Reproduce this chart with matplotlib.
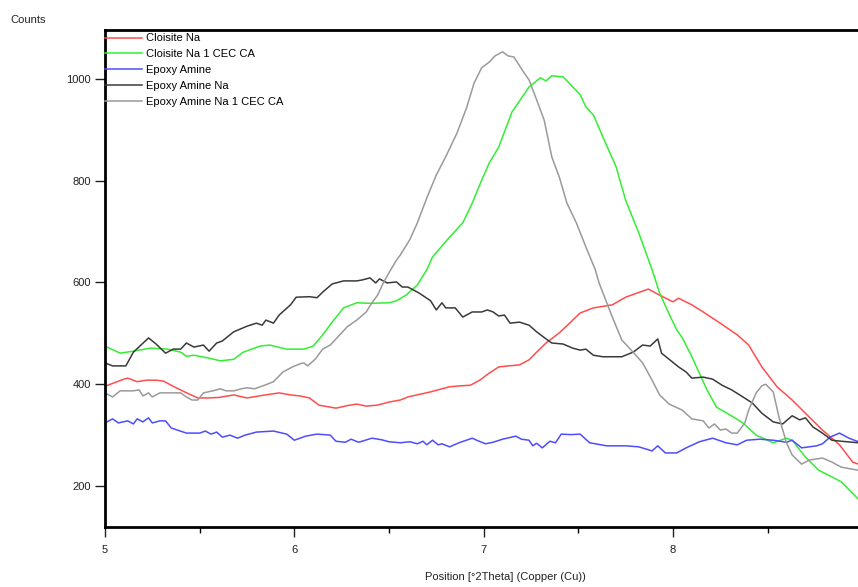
import numpy as np
import matplotlib
matplotlib.use("Agg")
import matplotlib.pyplot as plt
from matplotlib.ticker import MultipleLocator

plt.rcParams['font.family'] = ['Liberation Sans Narrow', 'Liberation Sans', 'DejaVu Sans']

# Cloisite Na
x_red = [5.00, 5.05, 5.10, 5.12, 5.17, 5.22, 5.27, 5.31, 5.36, 5.42, 5.49, 5.54, 5.60, 5.68, 5.75,
         5.83, 5.92, 5.98, 6.03, 6.08, 6.13, 6.22, 6.28, 6.33, 6.38, 6.44, 6.50, 6.56, 6.60, 6.66,
         6.72, 6.77, 6.82, 6.88, 6.93, 6.98, 7.03, 7.08, 7.13, 7.19, 7.24, 7.28, 7.33, 7.40, 7.46,
         7.51, 7.58, 7.63, 7.68, 7.75, 7.81, 7.87, 7.93, 8.00, 8.03, 8.10, 8.16, 8.25, 8.34, 8.40,
         8.47, 8.55, 8.63, 8.70, 8.79, 8.88, 8.95, 8.98]
y_red = [396, 403, 410, 412, 405, 408, 408, 406, 396, 385, 373, 373, 374, 379, 373,
         378, 383, 379, 377, 373, 359, 353, 358, 361, 357, 359, 365, 369, 375, 380,
         385, 390, 395, 397, 398, 408, 422, 434, 436, 438, 448, 463, 481, 501, 522,
         540, 550, 553, 556, 571, 579, 587, 575, 562, 569, 556, 542, 520, 497, 477,
         434, 395, 369, 343, 310, 281, 247, 243]

# Cloisite Na 1 CEC CA
x_green = [5.00, 5.04, 5.08, 5.15, 5.24, 5.33, 5.40, 5.43, 5.47, 5.54, 5.61, 5.68, 5.73, 5.82, 5.87,
           5.96, 6.05, 6.10, 6.15, 6.20, 6.26, 6.33, 6.40, 6.50, 6.54, 6.59, 6.65, 6.70, 6.73, 6.82,
           6.89, 6.94, 6.99, 7.03, 7.08, 7.15, 7.24, 7.30, 7.33, 7.36, 7.42, 7.51, 7.54, 7.58, 7.63,
           7.70, 7.75, 7.82, 7.89, 7.93, 7.97, 8.02, 8.05, 8.10, 8.18, 8.23, 8.30, 8.37, 8.44, 8.53,
           8.60, 8.63, 8.70, 8.77, 8.84, 8.89, 8.98]
y_green = [475, 468, 461, 465, 471, 469, 463, 455, 457, 452, 446, 449, 463, 475, 477,
           469, 469, 475, 497, 522, 550, 560, 559, 560, 564, 575, 595, 625, 650, 689,
           717, 756, 801, 835, 866, 935, 984, 1002, 996, 1006, 1004, 969, 945, 929, 886,
           827, 762, 697, 625, 579, 546, 507, 491, 454, 389, 355, 340, 324, 300, 285,
           294, 290, 257, 231, 218, 208, 174]

# Epoxy Amine
x_blue = [5.00, 5.04, 5.07, 5.12, 5.15, 5.17, 5.20, 5.23, 5.25, 5.29, 5.32, 5.35, 5.43, 5.50, 5.53,
          5.56, 5.59, 5.62, 5.66, 5.70, 5.74, 5.80, 5.89, 5.96, 6.00, 6.03, 6.06, 6.12, 6.19, 6.22,
          6.27, 6.30, 6.34, 6.41, 6.46, 6.50, 6.56, 6.61, 6.65, 6.68, 6.70, 6.73, 6.76, 6.78, 6.82,
          6.87, 6.94, 6.97, 7.01, 7.05, 7.10, 7.17, 7.20, 7.24, 7.26, 7.28, 7.31, 7.35, 7.38, 7.41,
          7.46, 7.51, 7.56, 7.65, 7.75, 7.82, 7.89, 7.92, 7.96, 8.02, 8.07, 8.14, 8.21, 8.28, 8.34,
          8.39, 8.46, 8.53, 8.60, 8.63, 8.68, 8.76, 8.79, 8.83, 8.88, 8.93, 8.98]
y_blue = [324, 332, 324, 328, 322, 332, 326, 334, 324, 328, 328, 314, 304, 304, 308,
          302, 306, 296, 300, 294, 300, 306, 308, 302, 290, 294, 298, 302, 300, 288,
          286, 292, 286, 294, 291, 287, 285, 287, 283, 288, 281, 290, 281, 283, 277,
          285, 294, 289, 283, 286, 292, 298, 292, 290, 279, 284, 275, 288, 285, 302,
          301, 302, 285, 279, 279, 277, 269, 279, 265, 265, 275, 287, 294, 285, 281,
          290, 292, 290, 286, 290, 275, 279, 283, 296, 304, 294, 287]

# Epoxy Amine Na
x_black = [5.00, 5.04, 5.11, 5.15, 5.23, 5.27, 5.32, 5.36, 5.40, 5.43, 5.47, 5.52, 5.55, 5.59, 5.62,
           5.68, 5.75, 5.80, 5.83, 5.85, 5.89, 5.92, 5.98, 6.01, 6.08, 6.12, 6.15, 6.20, 6.26, 6.33,
           6.36, 6.40, 6.43, 6.45, 6.49, 6.54, 6.57, 6.60, 6.66, 6.72, 6.75, 6.78, 6.80, 6.85, 6.89,
           6.94, 6.99, 7.02, 7.05, 7.08, 7.11, 7.14, 7.19, 7.24, 7.28, 7.33, 7.36, 7.42, 7.47, 7.51,
           7.54, 7.58, 7.63, 7.73, 7.79, 7.84, 7.88, 7.92, 7.94, 8.03, 8.07, 8.10, 8.16, 8.21, 8.26,
           8.31, 8.37, 8.42, 8.47, 8.53, 8.58, 8.63, 8.67, 8.70, 8.74, 8.79, 8.84, 8.89, 8.98]
y_black = [442, 436, 436, 463, 491, 479, 461, 469, 469, 481, 473, 477, 465, 481, 485,
           503, 514, 520, 516, 526, 520, 536, 556, 571, 572, 570, 581, 597, 603, 603,
           605, 609, 599, 607, 599, 601, 591, 591, 579, 564, 546, 560, 550, 550, 532,
           542, 542, 546, 542, 534, 536, 520, 522, 516, 503, 489, 481, 479, 471, 467,
           469, 457, 454, 454, 463, 477, 475, 489, 461, 434, 424, 412, 414, 410, 398,
           389, 375, 363, 343, 326, 322, 338, 330, 334, 316, 304, 290, 288, 285]

# Epoxy Amine Na 1 CEC CA
x_gray = [5.00, 5.04, 5.08, 5.15, 5.18, 5.20, 5.23, 5.25, 5.29, 5.34, 5.40, 5.43, 5.46, 5.49, 5.52,
          5.57, 5.61, 5.64, 5.68, 5.72, 5.75, 5.79, 5.85, 5.89, 5.94, 5.99, 6.03, 6.05, 6.07, 6.11,
          6.15, 6.19, 6.24, 6.28, 6.33, 6.38, 6.41, 6.44, 6.47, 6.50, 6.54, 6.56, 6.61, 6.65, 6.70,
          6.75, 6.80, 6.86, 6.91, 6.95, 6.99, 7.03, 7.06, 7.10, 7.13, 7.16, 7.21, 7.24, 7.28, 7.32,
          7.36, 7.40, 7.44, 7.49, 7.54, 7.59, 7.61, 7.68, 7.73, 7.79, 7.84, 7.89, 7.93, 7.98, 8.05,
          8.10, 8.16, 8.19, 8.22, 8.25, 8.28, 8.31, 8.34, 8.38, 8.40, 8.44, 8.47, 8.49, 8.53, 8.56,
          8.60, 8.63, 8.68, 8.72, 8.79, 8.84, 8.89, 8.98]
y_gray = [383, 375, 387, 387, 389, 377, 383, 375, 383, 383, 383, 375, 369, 369, 383,
          387, 391, 387, 387, 391, 393, 391, 399, 405, 424, 434, 440, 442, 436, 449,
          469, 477, 497, 513, 526, 542, 560, 575, 599, 619, 644, 654, 684, 717, 766,
          811, 847, 894, 943, 992, 1022, 1033, 1045, 1053, 1045, 1043, 1014, 998, 959, 919,
          847, 807, 756, 717, 670, 625, 599, 532, 487, 463, 442, 408, 379, 361, 349,
          332, 328, 314, 322, 310, 312, 304, 304, 324, 349, 383, 397, 400, 385, 336,
          285, 261, 243, 251, 255, 247, 237, 231]

series = [
    (x_red, y_red, '#ff4d4d', 'Cloisite Na'),
    (x_green, y_green, '#33ee33', 'Cloisite Na 1 CEC CA'),
    (x_blue, y_blue, '#4d4dff', 'Epoxy Amine'),
    (x_black, y_black, '#3a3a3a', 'Epoxy Amine Na'),
    (x_gray, y_gray, '#9a9a9a', 'Epoxy Amine Na 1 CEC CA'),
]

fig = plt.figure(figsize=(8.58, 5.87), dpi=100)
ax = fig.add_axes([105/858, 60/587, 753/858, 497/587])

for xs, ys, c, lab in series:
    ax.plot(xs, ys, color=c, lw=1.1, label=lab)

ax.set_xlim(5, 5 + 753/189.3)
ax.set_ylim(119.5, 1096)
ax.set_xticks([5, 6, 7, 8])
ax.xaxis.set_minor_locator(MultipleLocator(0.5))
ax.set_yticks([200, 400, 600, 800, 1000])

for s in ['left', 'bottom', 'top']:
    ax.spines[s].set_linewidth(2)
ax.spines['right'].set_visible(False)
ax.tick_params(axis='both', which='major', length=7, width=1, labelsize=8, colors='#222222', pad=3)
ax.tick_params(axis='x', which='major', pad=6)
ax.tick_params(axis='x', which='minor', length=4, width=1)
ax.xaxis.set_ticks_position('bottom')
ax.yaxis.set_ticks_position('left')

fig.text(10/858, 1 - 20/587, 'Counts', fontsize=8, va='center', ha='left', color='#222222')
fig.text(505/858, 1 - 577/587, 'Position [°2Theta] (Copper (Cu))', fontsize=8,
         va='center', ha='center', color='#222222')

ax.legend(loc='upper left', bbox_to_anchor=(0, 0.993), frameon=False, fontsize=8,
          borderpad=0, borderaxespad=0, handlelength=3.3, handletextpad=0.4,
          labelspacing=0.52)

plt.savefig('out.png', dpi=100)
plt.close()
